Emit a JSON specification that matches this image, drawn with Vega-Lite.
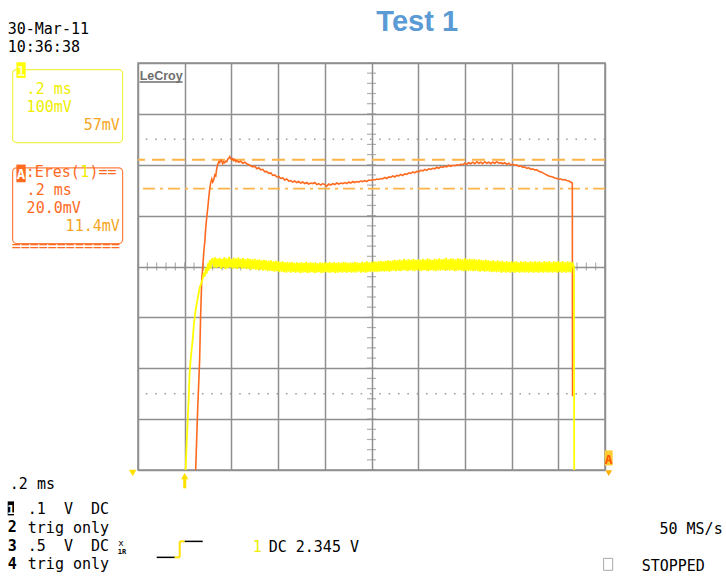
{
  "$schema": "https://vega.github.io/schema/vega-lite/v6.json",
  "autosize": {"type": "none"},
  "width": 467,
  "height": 407,
  "padding": {"left": 138, "top": 63, "right": 121, "bottom": 108},
  "background": "white",
  "data": {"values": [{}]},
  "config": {
    "view": {"stroke": "#8f8f8f", "strokeWidth": 1.5},
    "axis": {"labels": false, "ticks": false, "domain": false, "grid": false},
    "text": {"font": "DejaVu Sans Mono", "fontSize": 15, "align": "left", "baseline": "alphabetic"}
  },
  "datasets": {
    "orange": [
      {"t":0.047,"v":-4.0},{"t":0.052,"v":-3.3},{"t":0.056,"v":-2.75},{"t":0.060,"v":-2.3},{"t":0.064,"v":-1.83},{"t":0.068,"v":-1.0},{"t":0.073,"v":-0.26},{"t":0.077,"v":-0.02},{"t":0.082,"v":0.30},{"t":0.086,"v":0.49},{"t":0.090,"v":0.75},{"t":0.094,"v":0.95},{"t":0.099,"v":1.16},{"t":0.103,"v":1.35},{"t":0.107,"v":1.52},{"t":0.111,"v":1.64},{"t":0.116,"v":1.72},{"t":0.120,"v":1.66},{"t":0.124,"v":1.70},{"t":0.129,"v":1.80},{"t":0.133,"v":1.78},{"t":0.137,"v":1.92},{"t":0.141,"v":2.00},{"t":0.146,"v":2.06},{"t":0.150,"v":2.04},{"t":0.154,"v":2.09},{"t":0.158,"v":2.08},{"t":0.163,"v":2.02},{"t":0.167,"v":2.06},{"t":0.171,"v":2.04},{"t":0.176,"v":2.07},{"t":0.180,"v":2.06},{"t":0.184,"v":2.11},{"t":0.189,"v":2.13},{"t":0.193,"v":2.16},{"t":0.197,"v":2.12},{"t":0.201,"v":2.10},{"t":0.206,"v":2.12},{"t":0.210,"v":2.08},{"t":0.214,"v":2.10},{"t":0.219,"v":2.06},{"t":0.223,"v":2.08},{"t":0.232,"v":2.05},{"t":0.240,"v":2.07},{"t":0.249,"v":2.03},{"t":0.257,"v":2.05},{"t":0.266,"v":2.02},{"t":0.275,"v":2.00},{"t":0.283,"v":1.98},{"t":0.292,"v":1.96},{"t":0.300,"v":1.97},{"t":0.309,"v":1.92},{"t":0.317,"v":1.94},{"t":0.326,"v":1.90},{"t":0.334,"v":1.91},{"t":0.343,"v":1.86},{"t":0.351,"v":1.87},{"t":0.360,"v":1.83},{"t":0.369,"v":1.84},{"t":0.377,"v":1.79},{"t":0.386,"v":1.80},{"t":0.394,"v":1.76},{"t":0.403,"v":1.77},{"t":0.411,"v":1.73},{"t":0.420,"v":1.74},{"t":0.428,"v":1.70},{"t":0.437,"v":1.72},{"t":0.446,"v":1.68},{"t":0.454,"v":1.69},{"t":0.463,"v":1.66},{"t":0.471,"v":1.68},{"t":0.480,"v":1.65},{"t":0.488,"v":1.67},{"t":0.497,"v":1.64},{"t":0.506,"v":1.66},{"t":0.514,"v":1.63},{"t":0.523,"v":1.65},{"t":0.531,"v":1.62},{"t":0.540,"v":1.64},{"t":0.548,"v":1.63},{"t":0.557,"v":1.65},{"t":0.566,"v":1.61},{"t":0.574,"v":1.63},{"t":0.583,"v":1.60},{"t":0.591,"v":1.63},{"t":0.600,"v":1.61},{"t":0.608,"v":1.58},{"t":0.617,"v":1.62},{"t":0.626,"v":1.60},{"t":0.634,"v":1.63},{"t":0.643,"v":1.61},{"t":0.651,"v":1.64},{"t":0.660,"v":1.62},{"t":0.668,"v":1.64},{"t":0.677,"v":1.63},{"t":0.686,"v":1.65},{"t":0.694,"v":1.63},{"t":0.703,"v":1.66},{"t":0.711,"v":1.64},{"t":0.720,"v":1.67},{"t":0.728,"v":1.65},{"t":0.737,"v":1.67},{"t":0.745,"v":1.66},{"t":0.754,"v":1.68},{"t":0.762,"v":1.67},{"t":0.771,"v":1.69},{"t":0.780,"v":1.67},{"t":0.788,"v":1.70},{"t":0.797,"v":1.69},{"t":0.805,"v":1.71},{"t":0.814,"v":1.70},{"t":0.822,"v":1.72},{"t":0.831,"v":1.71},{"t":0.840,"v":1.73},{"t":0.848,"v":1.72},{"t":0.857,"v":1.75},{"t":0.865,"v":1.73},{"t":0.874,"v":1.76},{"t":0.882,"v":1.75},{"t":0.891,"v":1.78},{"t":0.900,"v":1.76},{"t":0.908,"v":1.79},{"t":0.917,"v":1.78},{"t":0.925,"v":1.81},{"t":0.934,"v":1.79},{"t":0.942,"v":1.82},{"t":0.951,"v":1.81},{"t":0.960,"v":1.84},{"t":0.968,"v":1.83},{"t":0.977,"v":1.86},{"t":0.985,"v":1.84},{"t":0.994,"v":1.87},{"t":1.002,"v":1.86},{"t":1.011,"v":1.89},{"t":1.020,"v":1.88},{"t":1.028,"v":1.91},{"t":1.037,"v":1.89},{"t":1.045,"v":1.92},{"t":1.054,"v":1.91},{"t":1.062,"v":1.93},{"t":1.071,"v":1.92},{"t":1.079,"v":1.95},{"t":1.088,"v":1.93},{"t":1.096,"v":1.96},{"t":1.105,"v":1.95},{"t":1.114,"v":1.97},{"t":1.122,"v":1.96},{"t":1.131,"v":1.99},{"t":1.139,"v":1.97},{"t":1.148,"v":1.99},{"t":1.157,"v":1.98},{"t":1.165,"v":2.00},{"t":1.174,"v":1.99},{"t":1.182,"v":2.01},{"t":1.191,"v":2.00},{"t":1.199,"v":2.03},{"t":1.208,"v":2.01},{"t":1.216,"v":2.04},{"t":1.225,"v":2.02},{"t":1.234,"v":2.05},{"t":1.242,"v":2.02},{"t":1.251,"v":2.06},{"t":1.259,"v":2.03},{"t":1.268,"v":2.05},{"t":1.276,"v":2.02},{"t":1.285,"v":2.06},{"t":1.294,"v":2.03},{"t":1.302,"v":2.05},{"t":1.311,"v":2.02},{"t":1.319,"v":2.05},{"t":1.328,"v":2.03},{"t":1.336,"v":2.06},{"t":1.345,"v":2.03},{"t":1.354,"v":2.04},{"t":1.362,"v":2.02},{"t":1.371,"v":2.04},{"t":1.379,"v":2.01},{"t":1.388,"v":2.03},{"t":1.396,"v":2.00},{"t":1.405,"v":2.01},{"t":1.414,"v":1.99},{"t":1.422,"v":2.00},{"t":1.431,"v":1.97},{"t":1.439,"v":1.98},{"t":1.448,"v":1.95},{"t":1.456,"v":1.96},{"t":1.465,"v":1.93},{"t":1.474,"v":1.94},{"t":1.482,"v":1.91},{"t":1.491,"v":1.92},{"t":1.499,"v":1.90},{"t":1.508,"v":1.90},{"t":1.516,"v":1.87},{"t":1.525,"v":1.86},{"t":1.534,"v":1.84},{"t":1.542,"v":1.82},{"t":1.551,"v":1.80},{"t":1.559,"v":1.78},{"t":1.568,"v":1.77},{"t":1.576,"v":1.76},{"t":1.585,"v":1.74},{"t":1.594,"v":1.73},{"t":1.602,"v":1.72},{"t":1.611,"v":1.72},{"t":1.619,"v":1.70},{"t":1.628,"v":1.71},{"t":1.636,"v":1.69},{"t":1.645,"v":1.68},{"t":1.653,"v":1.66},{"t":1.660,"v":1.64},{"t":1.661,"v":-2.55}
    ],
    "yellow": [
      {"t":0.004,"v":-4.0},{"t":0.009,"v":-3.4},{"t":0.013,"v":-3.0},{"t":0.017,"v":-2.6},{"t":0.021,"v":-2.1},{"t":0.026,"v":-1.8},{"t":0.030,"v":-1.62},{"t":0.034,"v":-1.45},{"t":0.039,"v":-1.15},{"t":0.043,"v":-1.0},{"t":0.047,"v":-0.85},{"t":0.052,"v":-0.72},{"t":0.056,"v":-0.62},{"t":0.060,"v":-0.52},{"t":0.064,"v":-0.42},{"t":0.069,"v":-0.36},{"t":0.073,"v":-0.30},{"t":0.077,"v":-0.24},{"t":0.082,"v":-0.12},{"t":0.086,"v":-0.20},{"t":0.090,"v":-0.02},{"t":0.094,"v":-0.14},{"t":0.099,"v":0.06},{"t":0.103,"v":-0.08},{"t":0.107,"v":0.12},{"t":0.111,"v":-0.04},{"t":0.116,"v":0.14},
      {"t":0.12,"v":0.15},{"t":0.125,"v":-0.02},{"t":0.13,"v":0.18},{"t":0.135,"v":-0.03},{"t":0.14,"v":0.16},{"t":0.145,"v":-0.01},{"t":0.15,"v":0.17},{"t":0.155,"v":-0.04},{"t":0.16,"v":0.15},{"t":0.165,"v":-0.02},{"t":0.17,"v":0.18},{"t":0.175,"v":-0.05},{"t":0.18,"v":0.16},{"t":0.185,"v":-0.03},{"t":0.19,"v":0.19},{"t":0.195,"v":-0.02},{"t":0.20,"v":0.15},{"t":0.205,"v":-0.04},{"t":0.21,"v":0.17},{"t":0.215,"v":-0.03},{"t":0.22,"v":0.16},{"t":0.225,"v":-0.05},{"t":0.23,"v":0.18},{"t":0.235,"v":-0.02},{"t":0.24,"v":0.15},{"t":0.245,"v":-0.04},{"t":0.25,"v":0.17},{"t":0.255,"v":-0.03},{"t":0.26,"v":0.14},{"t":0.265,"v":-0.05},{"t":0.27,"v":0.16},{"t":0.275,"v":-0.04},{"t":0.28,"v":0.15},{"t":0.285,"v":-0.06},{"t":0.29,"v":0.14},{"t":0.295,"v":-0.05},{"t":0.30,"v":0.15},
      {"t":0.305,"v":-0.06},{"t":0.31,"v":0.13},{"t":0.315,"v":-0.07},{"t":0.32,"v":0.14},{"t":0.325,"v":-0.06},{"t":0.33,"v":0.12},{"t":0.335,"v":-0.08},{"t":0.34,"v":0.13},{"t":0.345,"v":-0.07},{"t":0.35,"v":0.12},{"t":0.355,"v":-0.09},{"t":0.36,"v":0.11},{"t":0.365,"v":-0.08},{"t":0.37,"v":0.12},{"t":0.375,"v":-0.09},{"t":0.38,"v":0.10},{"t":0.385,"v":-0.10},{"t":0.39,"v":0.11},{"t":0.395,"v":-0.09},{"t":0.40,"v":0.10},{"t":0.405,"v":-0.11},{"t":0.41,"v":0.09},{"t":0.415,"v":-0.10},{"t":0.42,"v":0.10},{"t":0.425,"v":-0.11},{"t":0.43,"v":0.08},{"t":0.435,"v":-0.12},{"t":0.44,"v":0.09},{"t":0.445,"v":-0.10},{"t":0.45,"v":0.08},{"t":0.455,"v":-0.12},{"t":0.46,"v":0.09},{"t":0.465,"v":-0.11},{"t":0.47,"v":0.07},{"t":0.475,"v":-0.12},{"t":0.48,"v":0.08},{"t":0.485,"v":-0.11},{"t":0.49,"v":0.07},{"t":0.495,"v":-0.13},{"t":0.50,"v":0.08},
      {"t":0.505,"v":-0.12},{"t":0.51,"v":0.07},{"t":0.515,"v":-0.11},{"t":0.52,"v":0.09},{"t":0.525,"v":-0.13},{"t":0.53,"v":0.07},{"t":0.535,"v":-0.12},{"t":0.54,"v":0.08},{"t":0.545,"v":-0.11},{"t":0.55,"v":0.07},{"t":0.555,"v":-0.13},{"t":0.56,"v":0.08},{"t":0.565,"v":-0.12},{"t":0.57,"v":0.06},{"t":0.575,"v":-0.11},{"t":0.58,"v":0.08},{"t":0.585,"v":-0.13},{"t":0.59,"v":0.07},{"t":0.595,"v":-0.12},{"t":0.60,"v":0.08},{"t":0.605,"v":-0.11},{"t":0.61,"v":0.07},{"t":0.615,"v":-0.12},{"t":0.62,"v":0.09},{"t":0.625,"v":-0.12},{"t":0.63,"v":0.07},{"t":0.635,"v":-0.11},{"t":0.64,"v":0.08},{"t":0.645,"v":-0.13},{"t":0.65,"v":0.07},{"t":0.655,"v":-0.12},{"t":0.66,"v":0.08},{"t":0.665,"v":-0.11},{"t":0.67,"v":0.07},{"t":0.675,"v":-0.12},{"t":0.68,"v":0.09},{"t":0.685,"v":-0.11},{"t":0.69,"v":0.08},{"t":0.695,"v":-0.12},{"t":0.70,"v":0.07},
      {"t":0.705,"v":-0.11},{"t":0.71,"v":0.08},{"t":0.715,"v":-0.12},{"t":0.72,"v":0.07},{"t":0.725,"v":-0.11},{"t":0.73,"v":0.09},{"t":0.735,"v":-0.12},{"t":0.74,"v":0.08},{"t":0.745,"v":-0.10},{"t":0.75,"v":0.07},{"t":0.755,"v":-0.12},{"t":0.76,"v":0.09},{"t":0.765,"v":-0.11},{"t":0.77,"v":0.08},{"t":0.775,"v":-0.12},{"t":0.78,"v":0.10},{"t":0.785,"v":-0.11},{"t":0.79,"v":0.08},{"t":0.795,"v":-0.10},{"t":0.80,"v":0.09},{"t":0.805,"v":-0.11},{"t":0.81,"v":0.10},{"t":0.815,"v":-0.10},{"t":0.82,"v":0.09},{"t":0.825,"v":-0.11},{"t":0.83,"v":0.10},{"t":0.835,"v":-0.10},{"t":0.84,"v":0.11},{"t":0.845,"v":-0.09},{"t":0.85,"v":0.10},{"t":0.855,"v":-0.10},{"t":0.86,"v":0.11},{"t":0.865,"v":-0.09},{"t":0.87,"v":0.12},{"t":0.875,"v":-0.10},{"t":0.88,"v":0.11},{"t":0.885,"v":-0.09},{"t":0.89,"v":0.12},{"t":0.895,"v":-0.08},{"t":0.90,"v":0.13},
      {"t":0.905,"v":-0.09},{"t":0.91,"v":0.12},{"t":0.915,"v":-0.08},{"t":0.92,"v":0.14},{"t":0.925,"v":-0.09},{"t":0.93,"v":0.12},{"t":0.935,"v":-0.07},{"t":0.94,"v":0.15},{"t":0.945,"v":-0.08},{"t":0.95,"v":0.13},{"t":0.955,"v":-0.09},{"t":0.96,"v":0.14},{"t":0.965,"v":-0.07},{"t":0.97,"v":0.13},{"t":0.975,"v":-0.08},{"t":0.98,"v":0.15},{"t":0.985,"v":-0.09},{"t":0.99,"v":0.13},{"t":0.995,"v":-0.07},{"t":1.00,"v":0.14},{"t":1.005,"v":-0.08},{"t":1.01,"v":0.13},{"t":1.015,"v":-0.09},{"t":1.02,"v":0.15},{"t":1.025,"v":-0.07},{"t":1.03,"v":0.13},{"t":1.035,"v":-0.08},{"t":1.04,"v":0.16},{"t":1.045,"v":-0.09},{"t":1.05,"v":0.14},{"t":1.055,"v":-0.07},{"t":1.06,"v":0.13},{"t":1.065,"v":-0.08},{"t":1.07,"v":0.15},{"t":1.075,"v":-0.09},{"t":1.08,"v":0.14},{"t":1.085,"v":-0.07},{"t":1.09,"v":0.16},{"t":1.095,"v":-0.08},{"t":1.10,"v":0.14},
      {"t":1.105,"v":-0.07},{"t":1.11,"v":0.15},{"t":1.115,"v":-0.08},{"t":1.12,"v":0.17},{"t":1.125,"v":-0.07},{"t":1.13,"v":0.14},{"t":1.135,"v":-0.08},{"t":1.14,"v":0.16},{"t":1.145,"v":-0.07},{"t":1.15,"v":0.15},{"t":1.155,"v":-0.09},{"t":1.16,"v":0.14},{"t":1.165,"v":-0.08},{"t":1.17,"v":0.16},{"t":1.175,"v":-0.07},{"t":1.18,"v":0.15},{"t":1.185,"v":-0.08},{"t":1.19,"v":0.14},{"t":1.195,"v":-0.09},{"t":1.20,"v":0.16},{"t":1.205,"v":-0.08},{"t":1.21,"v":0.14},{"t":1.215,"v":-0.09},{"t":1.22,"v":0.15},{"t":1.225,"v":-0.08},{"t":1.23,"v":0.14},{"t":1.235,"v":-0.09},{"t":1.24,"v":0.15},{"t":1.245,"v":-0.08},{"t":1.25,"v":0.13},{"t":1.255,"v":-0.09},{"t":1.26,"v":0.14},{"t":1.265,"v":-0.10},{"t":1.27,"v":0.13},{"t":1.275,"v":-0.09},{"t":1.28,"v":0.12},{"t":1.285,"v":-0.10},{"t":1.29,"v":0.13},{"t":1.295,"v":-0.09},{"t":1.30,"v":0.12},
      {"t":1.305,"v":-0.10},{"t":1.31,"v":0.11},{"t":1.315,"v":-0.11},{"t":1.32,"v":0.12},{"t":1.325,"v":-0.10},{"t":1.33,"v":0.10},{"t":1.335,"v":-0.11},{"t":1.34,"v":0.12},{"t":1.345,"v":-0.10},{"t":1.35,"v":0.10},{"t":1.355,"v":-0.12},{"t":1.36,"v":0.11},{"t":1.365,"v":-0.11},{"t":1.37,"v":0.09},{"t":1.375,"v":-0.12},{"t":1.38,"v":0.10},{"t":1.385,"v":-0.11},{"t":1.39,"v":0.09},{"t":1.395,"v":-0.12},{"t":1.40,"v":0.10},{"t":1.405,"v":-0.11},{"t":1.41,"v":0.09},{"t":1.415,"v":-0.12},{"t":1.42,"v":0.10},{"t":1.425,"v":-0.11},{"t":1.43,"v":0.08},{"t":1.435,"v":-0.12},{"t":1.44,"v":0.10},{"t":1.445,"v":-0.11},{"t":1.45,"v":0.09},{"t":1.455,"v":-0.12},{"t":1.46,"v":0.10},{"t":1.465,"v":-0.11},{"t":1.47,"v":0.08},{"t":1.475,"v":-0.12},{"t":1.48,"v":0.10},{"t":1.485,"v":-0.11},{"t":1.49,"v":0.09},{"t":1.495,"v":-0.12},{"t":1.50,"v":0.10},
      {"t":1.505,"v":-0.11},{"t":1.51,"v":0.09},{"t":1.515,"v":-0.12},{"t":1.52,"v":0.10},{"t":1.525,"v":-0.11},{"t":1.53,"v":0.08},{"t":1.535,"v":-0.12},{"t":1.54,"v":0.10},{"t":1.545,"v":-0.11},{"t":1.55,"v":0.09},{"t":1.555,"v":-0.12},{"t":1.56,"v":0.10},{"t":1.565,"v":-0.11},{"t":1.57,"v":0.08},{"t":1.575,"v":-0.12},{"t":1.58,"v":0.10},{"t":1.585,"v":-0.11},{"t":1.59,"v":0.09},{"t":1.595,"v":-0.12},{"t":1.60,"v":0.10},{"t":1.605,"v":-0.11},{"t":1.61,"v":0.09},{"t":1.615,"v":-0.12},{"t":1.62,"v":0.10},{"t":1.625,"v":-0.11},{"t":1.63,"v":0.08},{"t":1.635,"v":-0.12},{"t":1.64,"v":0.10},{"t":1.645,"v":-0.11},{"t":1.65,"v":0.09},{"t":1.655,"v":-0.12},{"t":1.66,"v":0.08},{"t":1.667,"v":0.0},{"t":1.668,"v":-4.0}
    ],
    "yticks": [
      {"v":-4},{"v":-3.8},{"v":-3.6},{"v":-3.4},{"v":-3.2},{"v":-3},{"v":-2.8},{"v":-2.6},{"v":-2.4},{"v":-2.2},{"v":-2},{"v":-1.8},{"v":-1.6},{"v":-1.4},{"v":-1.2},{"v":-1},{"v":-0.8},{"v":-0.6},{"v":-0.4},{"v":-0.2},{"v":0},{"v":0.2},{"v":0.4},{"v":0.6},{"v":0.8},{"v":1},{"v":1.2},{"v":1.4},{"v":1.6},{"v":1.8},{"v":2},{"v":2.2},{"v":2.4},{"v":2.6},{"v":2.8},{"v":3},{"v":3.2},{"v":3.4},{"v":3.6},{"v":3.8},{"v":4}
    ],
    "xticks": [
      {"t":-0.2},{"t":-0.16},{"t":-0.12},{"t":-0.08},{"t":-0.04},{"t":0},{"t":0.04},{"t":0.08},{"t":0.12},{"t":0.16},{"t":0.2},{"t":0.24},{"t":0.28},{"t":0.32},{"t":0.36},{"t":0.4},{"t":0.44},{"t":0.48},{"t":0.52},{"t":0.56},{"t":0.6},{"t":0.64},{"t":0.68},{"t":0.72},{"t":0.76},{"t":0.8},{"t":0.84},{"t":0.88},{"t":0.92},{"t":0.96},{"t":1},{"t":1.04},{"t":1.08},{"t":1.12},{"t":1.16},{"t":1.2},{"t":1.24},{"t":1.28},{"t":1.32},{"t":1.36},{"t":1.4},{"t":1.44},{"t":1.48},{"t":1.52},{"t":1.56},{"t":1.6},{"t":1.64},{"t":1.68},{"t":1.72},{"t":1.76},{"t":1.8}
    ]
  },
  "layer": [
    {
      "data": {"name": "xticks"},
      "mark": {"type": "tick", "orient": "vertical", "size": 8, "thickness": 1.2, "color": "#8f8f8f"},
      "encoding": {
        "x": {"field": "t", "type": "quantitative", "scale": {"domain": [-0.2, 1.8], "nice": false, "zero": false},
              "axis": {"values": [-0.2, 0, 0.2, 0.4, 0.6, 0.8, 1, 1.2, 1.4, 1.6, 1.8], "grid": true, "gridColor": "#8f8f8f", "gridWidth": 1.5, "labels": false, "ticks": false, "domain": false, "title": null}},
        "y": {"datum": 0, "type": "quantitative", "scale": {"domain": [-4, 4], "nice": false, "zero": false},
              "axis": {"values": [-4, -3, -2, -1, 0, 1, 2, 3, 4], "grid": true, "gridColor": "#8f8f8f", "gridWidth": 1.5, "labels": false, "ticks": false, "domain": false, "title": null}}
      }
    },
    {
      "data": {"name": "yticks"},
      "mark": {"type": "tick", "orient": "horizontal", "size": 9, "thickness": 1.2, "color": "#8f8f8f"},
      "encoding": {"x": {"datum": 0.8, "type": "quantitative"}, "y": {"field": "v", "type": "quantitative"}}
    },
    {
      "mark": {"type": "rule", "color": "#9a9a9a", "strokeWidth": 1.5, "strokeDash": [1.5, 7.84]},
      "encoding": {"y": {"datum": 2.5, "type": "quantitative"}}
    },
    {
      "mark": {"type": "rule", "color": "#9a9a9a", "strokeWidth": 1.5, "strokeDash": [1.5, 7.84]},
      "encoding": {"y": {"datum": -2.5, "type": "quantitative"}}
    },
    {
      "mark": {"type": "rule", "color": "#FFB347", "strokeWidth": 2, "strokeDash": [13, 7]},
      "encoding": {"y": {"datum": 2.10, "type": "quantitative"}}
    },
    {
      "mark": {"type": "rule", "color": "#FFB347", "strokeWidth": 1.6, "strokeDash": [12, 5, 3, 5]},
      "encoding": {"y": {"datum": 1.53, "type": "quantitative"}}
    },
    {
      "data": {"name": "orange"},
      "mark": {"type": "line", "color": "#FF6A1F", "strokeWidth": 1.6},
      "encoding": {"x": {"field": "t", "type": "quantitative"}, "y": {"field": "v", "type": "quantitative"}}
    },
    {
      "data": {"name": "yellow"},
      "mark": {"type": "line", "color": "#FFFF00", "strokeWidth": 1.8},
      "encoding": {"x": {"field": "t", "type": "quantitative"}, "y": {"field": "v", "type": "quantitative"}}
    },
    {
      "mark": {"type": "text", "text": "LeCroy", "font": "Liberation Sans", "fontWeight": "bold", "fontSize": 12.5, "color": "#6e6e6e"},
      "encoding": {"x": {"datum": -0.193, "type": "quantitative"}, "y": {"datum": 3.674, "type": "quantitative"}}
    },
    {
      "mark": {"type": "rule", "color": "#6e6e6e", "strokeWidth": 1.5},
      "encoding": {"x": {"datum": -0.193, "type": "quantitative"}, "x2": {"datum": -0.009}, "y": {"datum": 3.625, "type": "quantitative"}}
    },
    {
      "mark": {"type": "text", "text": "Test 1", "font": "Liberation Sans", "fontWeight": "bold", "fontSize": 29, "color": "#5B9BD5", "align": "center"},
      "encoding": {"x": {"datum": 0.9957, "type": "quantitative"}, "y": {"datum": 4.637, "type": "quantitative"}}
    },
    {
      "mark": {"type": "text", "text": ["30-Mar-11", "10:36:38"], "lineHeight": 18, "color": "#000000"},
      "encoding": {"x": {"datum": -0.758, "type": "quantitative"}, "y": {"datum": 4.578, "type": "quantitative"}}
    },
    {
      "mark": {"type": "rect", "fill": "white", "fillOpacity": 0, "stroke": "#F2F24A", "strokeWidth": 1.2, "cornerRadius": 4},
      "encoding": {"x": {"datum": -0.737, "type": "quantitative"}, "x2": {"datum": -0.266}, "y": {"datum": 3.870, "type": "quantitative"}, "y2": {"datum": 2.436}}
    },
    {
      "mark": {"type": "rect", "fill": "#FFFF00"},
      "encoding": {"x": {"datum": -0.7208, "type": "quantitative"}, "x2": {"datum": -0.681}, "y": {"datum": 4.014, "type": "quantitative"}, "y2": {"datum": 3.707}}
    },
    {
      "mark": {"type": "text", "text": "1", "fontWeight": "bold", "fontSize": 14, "color": "#FFFFC0", "align": "center"},
      "encoding": {"x": {"datum": -0.701, "type": "quantitative"}, "y": {"datum": 3.75, "type": "quantitative"}}
    },
    {
      "mark": {"type": "text", "text": [".2 ms", "100mV"], "lineHeight": 18, "color": "#EEEE00"},
      "encoding": {"x": {"datum": -0.677, "type": "quantitative"}, "y": {"datum": 3.399, "type": "quantitative"}}
    },
    {
      "mark": {"type": "text", "text": "57mV", "color": "#F5A623", "align": "right"},
      "encoding": {"x": {"datum": -0.278, "type": "quantitative"}, "y": {"datum": 2.692, "type": "quantitative"}}
    },
    {
      "mark": {"type": "rect", "fill": "white", "fillOpacity": 0, "stroke": "#FF7F3F", "strokeWidth": 1.2, "cornerRadius": 4},
      "encoding": {"x": {"datum": -0.737, "type": "quantitative"}, "x2": {"datum": -0.266}, "y": {"datum": 1.939, "type": "quantitative"}, "y2": {"datum": 0.45}}
    },
    {
      "mark": {"type": "rect", "fill": "#FF6A1F"},
      "encoding": {"x": {"datum": -0.7208, "type": "quantitative"}, "x2": {"datum": -0.681}, "y": {"datum": 2.004, "type": "quantitative"}, "y2": {"datum": 1.656}}
    },
    {
      "mark": {"type": "text", "text": "A", "fontWeight": "bold", "fontSize": 14, "color": "#FFFFFF", "align": "center"},
      "encoding": {"x": {"datum": -0.701, "type": "quantitative"}, "y": {"datum": 1.72, "type": "quantitative"}}
    },
    {
      "mark": {"type": "text", "text": ":Eres(", "color": "#FF6A1F"},
      "encoding": {"x": {"datum": -0.681, "type": "quantitative"}, "y": {"datum": 1.768, "type": "quantitative"}}
    },
    {
      "mark": {"type": "text", "text": "1", "color": "#EEEE00"},
      "encoding": {"x": {"datum": -0.447, "type": "quantitative"}, "y": {"datum": 1.768, "type": "quantitative"}}
    },
    {
      "mark": {"type": "text", "text": ")==", "color": "#FF6A1F"},
      "encoding": {"x": {"datum": -0.408, "type": "quantitative"}, "y": {"datum": 1.768, "type": "quantitative"}}
    },
    {
      "mark": {"type": "text", "text": [".2 ms", "20.0mV"], "lineHeight": 18, "color": "#FF6A1F"},
      "encoding": {"x": {"datum": -0.677, "type": "quantitative"}, "y": {"datum": 1.415, "type": "quantitative"}}
    },
    {
      "mark": {"type": "text", "text": "11.4mV", "color": "#F5A623", "align": "right"},
      "encoding": {"x": {"datum": -0.278, "type": "quantitative"}, "y": {"datum": 0.688, "type": "quantitative"}}
    },
    {
      "mark": {"type": "text", "text": "============", "color": "#FF6A1F"},
      "encoding": {"x": {"datum": -0.741, "type": "quantitative"}, "y": {"datum": 0.314, "type": "quantitative"}}
    },
    {
      "mark": {"type": "point", "shape": "triangle-down", "filled": true, "size": 55, "color": "#FFE000", "opacity": 1},
      "encoding": {"x": {"datum": -0.2227, "type": "quantitative"}, "y": {"datum": -4.06, "type": "quantitative"}}
    },
    {
      "mark": {"type": "point", "shape": "triangle-up", "filled": true, "size": 55, "color": "#FFE000", "opacity": 1},
      "encoding": {"x": {"datum": 0, "type": "quantitative"}, "y": {"datum": -4.12, "type": "quantitative"}}
    },
    {
      "mark": {"type": "rule", "color": "#FFE000", "strokeWidth": 3},
      "encoding": {"x": {"datum": 0, "type": "quantitative"}, "y": {"datum": -4.15, "type": "quantitative"}, "y2": {"datum": -4.36}}
    },
    {
      "mark": {"type": "rect", "fill": "#FFCC33"},
      "encoding": {"x": {"datum": 1.7987, "type": "quantitative"}, "x2": {"datum": 1.833}, "y": {"datum": -3.615, "type": "quantitative"}, "y2": {"datum": -3.91}}
    },
    {
      "mark": {"type": "text", "text": "A", "fontWeight": "bold", "fontSize": 13, "color": "#FF5500", "align": "center"},
      "encoding": {"x": {"datum": 1.816, "type": "quantitative"}, "y": {"datum": -3.885, "type": "quantitative"}}
    },
    {
      "mark": {"type": "point", "shape": "triangle-down", "filled": true, "size": 45, "color": "#FFB000", "opacity": 1},
      "encoding": {"x": {"datum": 1.816, "type": "quantitative"}, "y": {"datum": -4.06, "type": "quantitative"}}
    },
    {
      "mark": {"type": "text", "text": ".2 ms", "color": "#000000"},
      "encoding": {"x": {"datum": -0.749, "type": "quantitative"}, "y": {"datum": -4.381, "type": "quantitative"}}
    },
    {
      "mark": {"type": "rect", "fill": "#000000"},
      "encoding": {"x": {"datum": -0.758, "type": "quantitative"}, "x2": {"datum": -0.731}, "y": {"datum": -4.617, "type": "quantitative"}, "y2": {"datum": -4.892}}
    },
    {
      "mark": {"type": "text", "text": "1", "fontWeight": "bold", "fontSize": 13, "color": "#FFFFFF", "align": "center"},
      "encoding": {"x": {"datum": -0.7445, "type": "quantitative"}, "y": {"datum": -4.86, "type": "quantitative"}}
    },
    {
      "mark": {"type": "text", "text": ["2", "3", "4"], "lineHeight": 18.3, "fontWeight": "bold", "color": "#000000"},
      "encoding": {"x": {"datum": -0.758, "type": "quantitative"}, "y": {"datum": -5.226, "type": "quantitative"}}
    },
    {
      "mark": {"type": "text", "text": [".1\u00a0\u00a0V\u00a0\u00a0DC", "trig only", ".5\u00a0\u00a0V\u00a0\u00a0DC", "trig only"], "lineHeight": 18.3, "color": "#000000"},
      "encoding": {"x": {"datum": -0.672, "type": "quantitative"}, "y": {"datum": -4.872, "type": "quantitative"}}
    },
    {
      "mark": {"type": "text", "text": "x", "fontSize": 9, "color": "#000000"},
      "encoding": {"x": {"datum": -0.285, "type": "quantitative"}, "y": {"datum": -5.50, "type": "quantitative"}}
    },
    {
      "mark": {"type": "text", "text": "1R", "fontSize": 7, "fontWeight": "bold", "color": "#000000"},
      "encoding": {"x": {"datum": -0.287, "type": "quantitative"}, "y": {"datum": -5.66, "type": "quantitative"}}
    },
    {
      "mark": {"type": "rule", "color": "#000000", "strokeWidth": 1.5},
      "encoding": {"x": {"datum": -0.1199, "type": "quantitative"}, "x2": {"datum": -0.0428}, "y": {"datum": -5.717, "type": "quantitative"}}
    },
    {
      "mark": {"type": "rule", "color": "#FFE000", "strokeWidth": 2},
      "encoding": {"x": {"datum": -0.0428, "type": "quantitative"}, "x2": {"datum": -0.0214}, "y": {"datum": -5.717, "type": "quantitative"}}
    },
    {
      "mark": {"type": "rule", "color": "#FFE000", "strokeWidth": 2},
      "encoding": {"x": {"datum": -0.0214, "type": "quantitative"}, "y": {"datum": -5.717, "type": "quantitative"}, "y2": {"datum": -5.403}}
    },
    {
      "mark": {"type": "rule", "color": "#FFE000", "strokeWidth": 2},
      "encoding": {"x": {"datum": -0.0214, "type": "quantitative"}, "x2": {"datum": 0}, "y": {"datum": -5.403, "type": "quantitative"}}
    },
    {
      "mark": {"type": "rule", "color": "#000000", "strokeWidth": 1.5},
      "encoding": {"x": {"datum": 0, "type": "quantitative"}, "x2": {"datum": 0.0771}, "y": {"datum": -5.403, "type": "quantitative"}}
    },
    {
      "mark": {"type": "text", "text": "1", "color": "#EEEE00"},
      "encoding": {"x": {"datum": 0.291, "type": "quantitative"}, "y": {"datum": -5.619, "type": "quantitative"}}
    },
    {
      "mark": {"type": "text", "text": "DC 2.345 V", "color": "#000000"},
      "encoding": {"x": {"datum": 0.3597, "type": "quantitative"}, "y": {"datum": -5.619, "type": "quantitative"}}
    },
    {
      "mark": {"type": "text", "text": "50 MS/s", "color": "#000000", "align": "right"},
      "encoding": {"x": {"datum": 2.304, "type": "quantitative"}, "y": {"datum": -5.265, "type": "quantitative"}}
    },
    {
      "mark": {"type": "rect", "fill": "white", "fillOpacity": 0, "stroke": "#aaaaaa", "strokeWidth": 1},
      "encoding": {"x": {"datum": 1.794, "type": "quantitative"}, "x2": {"datum": 1.833}, "y": {"datum": -5.737, "type": "quantitative"}, "y2": {"datum": -5.972}}
    },
    {
      "mark": {"type": "text", "text": "STOPPED", "color": "#000000"},
      "encoding": {"x": {"datum": 1.957, "type": "quantitative"}, "y": {"datum": -5.992, "type": "quantitative"}}
    }
  ]
}
